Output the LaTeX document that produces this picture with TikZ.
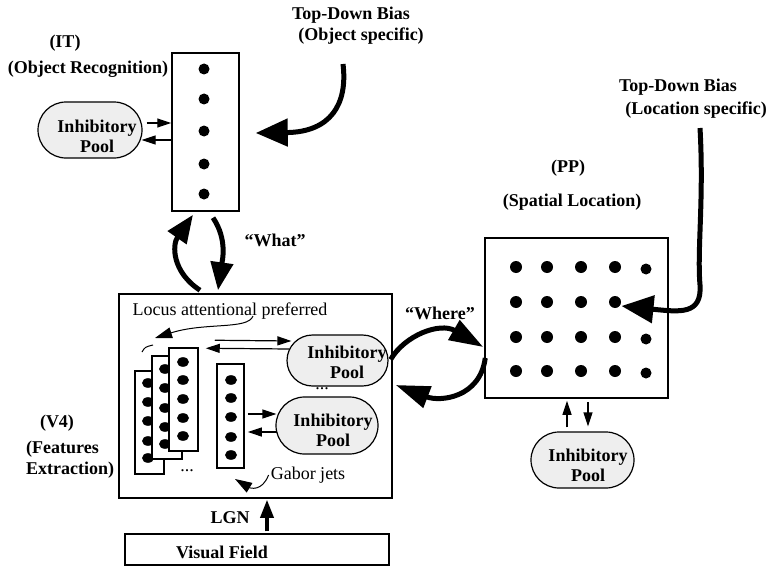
\documentclass[tikz,border=0pt]{standalone}
\usepackage{fontspec}
\setmainfont{Liberation Serif}
\usetikzlibrary{arrows.meta,shapes.misc,calc}
\begin{document}
\begin{tikzpicture}[x=1pt,y=-1pt,
  box/.style={draw,line width=1.5pt,inner sep=0pt,fill=white},
  pool/.style={draw,line width=1.2pt,fill=gray!13,rounded rectangle,inner sep=0pt},
  lbl/.style={font=\fontsize{18}{20}\selectfont\bfseries,inner sep=0pt,align=center},
  rlbl/.style={font=\fontsize{18}{20}\selectfont,inner sep=0pt},
  thinarr/.style={line width=1.2pt,-{Triangle[length=14pt,width=9pt]}},
  curvarr/.style={line width=1pt,-{Triangle[length=17pt,width=11pt]}},
  bigarr/.style={line width=5pt,-{Triangle[length=32pt,width=27pt]}},
  whatarr/.style={line width=5pt,-{Triangle[length=28pt,width=22pt]}},
  wherearr/.style={line width=5pt,-{Triangle[length=34pt,width=22pt]}},
  lgnarr/.style={line width=3.5pt,-{Triangle[length=18pt,width=13pt]}}
]
\useasboundingbox (0,0) rectangle (767,567);

% ---------- IT ----------
\node[lbl] (itlbl) at (65,43) {(IT)};
\node[lbl] (itlbl2) at (88,69) {(Object Recognition)};
\node[box,minimum width=67pt,minimum height=158pt] (it) at (205.5,132) {};
\foreach \y in {69,99,131,164,194} \fill (204,\y) circle[radius=5.5pt];
\node[pool,minimum width=104pt,minimum height=56pt] (itpool) at (90,130) {};
\node[lbl] (itpooltxt) at (97,136) {Inhibitory\\Pool};
\draw[thinarr] ($(itpool.east)+(4,-7)$) -- ($(it.west)+(0,-9)$);
\draw[thinarr] ($(it.west)+(0,8)$) -- ($(itpool.east)+(-1,10)$);

% object bias
\node[lbl] (objb1) at (351,15) {Top-Down Bias};
\node[lbl] (objb2) at (361,36) {(Object specific)};
\coordinate (objstart) at (343,64);
\draw[bigarr] (objstart) .. controls (348,105) and (330,132) .. ($(it.east)+(16,1)$);

% ---------- V4 ----------
\node[box,minimum width=273pt,minimum height=204pt] (v4) at (255.5,396) {};
\node[lbl] (v4lbl) at (57,423) {(V4)};
\node[lbl,anchor=west] (v4lbl2) at (26,449) {(Features};
\node[lbl,anchor=west] (v4lbl3) at (26,470) {Extraction)};

% what arrows
\draw[whatarr] ($(v4.north)+(-55.5,-3)$) .. controls (172,272) and (172,245) .. ($(it.south)+(-12.5,3)$);
\draw[whatarr] ($(it.south)+(7.5,6)$) .. controls (228,240) and (222,262) .. ($(v4.north)+(-37.5,-3)$);
\node[lbl] (whatlbl) at (275,240) {“What”};

\node[rlbl] (locus) at (230,311) {Locus attentional preferred};
\coordinate (locusstart) at (253,316);
\coordinate (locusend) at (155,338);
\draw[curvarr] (locusstart) .. controls (248,330) and (205,322) .. (locusend);
\coordinate (marka) at (142,352);
\coordinate (markb) at (153,345);
\draw[line width=1pt] (marka) .. controls (145,347) .. (markb);

% stacked columns
\node[box,minimum width=29pt,minimum height=103pt] (col1) at (149.5,422.5) {};
\foreach \y in {383,402,421,441,458} \fill (148,\y) ellipse[x radius=6pt,y radius=4.8pt];
\node[box,minimum width=30pt,minimum height=103pt] (col2) at (167,407.5) {};
\foreach \y in {369,388,408,427,444} \fill (165,\y) ellipse[x radius=6pt,y radius=4.8pt];
\node[box,minimum width=29pt,minimum height=103pt] (col3) at (183.5,399.5) {};
\foreach \y in {362,380,399,418,436} \fill (183,\y) ellipse[x radius=6pt,y radius=4.8pt];
\node[rlbl] (dots1) at (187,471) {...};

% gabor jet column
\node[box,minimum width=27pt,minimum height=104pt] (jets) at (230.5,416) {};
\foreach \y in {380,398,417,437,455} \fill (231,\y) ellipse[x radius=6pt,y radius=4.8pt];

% V4 pools
\node[pool,minimum width=101pt,minimum height=51pt] (pool1) at (337.5,360.5) {};
\node[lbl] (pool1txt) at (347,362) {Inhibitory\\Pool};
\node[rlbl] (dots2) at (322,389) {...};
\node[pool,minimum width=102pt,minimum height=57pt] (pool2) at (327,425.5) {};
\node[lbl] (pool2txt) at (333,430) {Inhibitory\\Pool};

\draw[thinarr] ($(col3.north east)+(16,-7)$) -- ($(pool1.west)+(5,-19.5)$);
\draw[thinarr] ($(pool1.west)+(3,-11.5)$) -- ($(col3.north east)+(7,1)$);
\draw[thinarr] ($(jets.east)+(3,-2)$) -- ($(pool2.west)+(1,-11.5)$);
\draw[thinarr] ($(pool2.west)+(2,6.5)$) -- ($(jets.east)+(3,16)$);

\node[rlbl] (gabor) at (308,475) {Gabor jets};
\draw[curvarr] ($(gabor.west)+(-2,0)$) .. controls (262,492) and (250,488) .. (235,479);

% visual field
\node[box,minimum width=264pt,minimum height=31pt] (vf) at (257,549.5) {};
\node[lbl] (vftxt) at (222,552) {Visual Field};
\node[lbl] (lgn) at (230,518) {LGN};
\draw[lgnarr] ($(vf.north)+(10,-2)$) -- ($(v4.south)+(11.5,1)$);

% ---------- PP ----------
\node[lbl] (pplbl) at (568,168) {(PP)};
\node[lbl] (pplbl2) at (572,202) {(Spatial Location)};
\node[box,minimum width=183pt,minimum height=160pt] (pp) at (576.5,318) {};
\foreach \y in {267,302,337,371} {
  \foreach \x in {516,547,581,615} \fill (\x,\y) circle[radius=6pt];
  \fill (646,\y+2) circle[radius=5.5pt];
}
\node[pool,minimum width=103pt,minimum height=56pt] (pppool) at (582.5,460) {};
\node[lbl] (pppooltxt) at (588,465) {Inhibitory\\Pool};
\draw[thinarr] ($(pppool.north)+(-15.5,-4)$) -- ($(pp.south)+(-9.5,2)$);
\draw[thinarr] ($(pp.south)+(11.5,3)$) -- ($(pppool.north)+(5.5,-5)$);

% where
\node[lbl] (wherelbl) at (440,313) {“Where”};
\draw[wherearr] ($(pool1.east)+(2,-1)$) .. controls (405,335) and (440,322) .. ($(pp.west)+(-1,29)$);
\draw[wherearr] ($(pp.west)+(1,40)$) .. controls (480,398) and (440,402) .. ($(v4.east)+(3,-11)$);

% location bias
\node[lbl] (locb1) at (678,87) {Top-Down Bias};
\node[lbl] (locb2) at (696,110) {(Location specific)};
\coordinate (locstart) at (700,128);
\draw[bigarr] (locstart) .. controls (704,200) and (697,250) .. (700,285)
   .. controls (702,315) and (680,312) .. ($(pp.center)+(45,-12)$);
\end{tikzpicture}
\end{document}
